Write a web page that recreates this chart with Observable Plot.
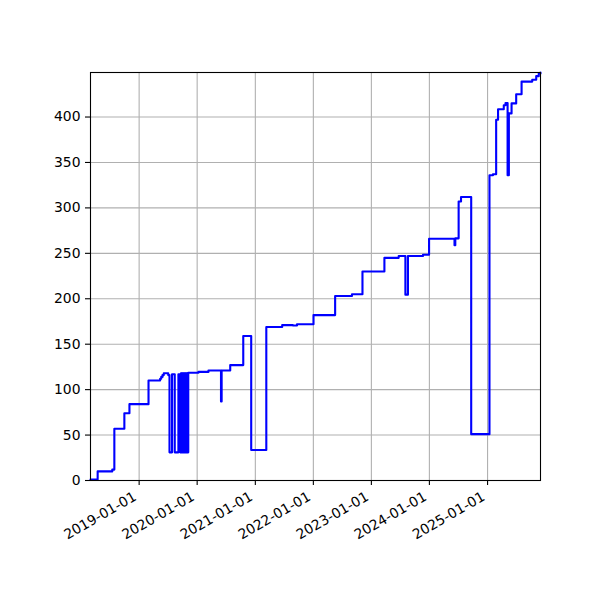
<!DOCTYPE html>
<html>
<head>
<meta charset="utf-8">
<script src="https://cdn.jsdelivr.net/npm/d3@7"></script>
<script src="https://cdn.jsdelivr.net/npm/@observablehq/plot@0.6"></script>
<style>
  html, body { margin: 0; padding: 0; background: #fff; }
  #chart { width: 600px; height: 600px; }
</style>
</head>
<body>
<div id="chart"></div>
<script>
const dates = [
  "2018-03-01","2018-04-15","2018-07-16","2018-07-29","2018-09-30","2018-11-01",
  "2019-03-01","2019-05-13","2019-05-20","2019-05-28","2019-06-05","2019-07-03",
  "2019-07-11","2019-07-27","2019-08-13","2019-09-05","2019-09-16","2019-09-21",
  "2019-09-24","2019-09-27","2019-09-30","2019-10-03","2019-10-06","2019-10-09",
  "2019-10-12","2019-10-15","2019-10-18","2019-10-21","2019-10-24","2019-10-27",
  "2019-10-30","2019-11-02","2019-11-04","2019-11-06","2020-01-09","2020-03-12",
  "2020-05-30","2020-06-03","2020-07-27","2020-10-17","2020-12-06","2021-03-11",
  "2021-06-19","2021-08-25","2021-09-20","2022-01-02","2022-05-18","2022-09-01",
  "2022-11-06","2023-03-24","2023-06-22","2023-08-03","2023-08-19","2023-11-22",
  "2023-12-30","2024-06-07","2024-06-12","2024-07-03","2024-07-18","2024-09-20",
  "2025-01-13","2025-02-04","2025-02-24","2025-03-08","2025-04-13","2025-04-24",
  "2025-05-07","2025-05-15","2025-06-01","2025-06-30","2025-08-03","2025-10-09",
  "2025-11-03","2025-11-19","2025-11-30"
];
const values = [
  1, 10, 12, 57, 74, 84,
  110, 112, 114, 116, 118, 116,
  31, 117, 31, 117, 31, 118,
  31, 118, 31, 118, 31, 118,
  31, 118, 31, 118, 31, 118,
  31, 118, 31, 118.5, 119.5, 121,
  87, 121, 127, 159, 33.5, 169,
  171, 170.5, 172, 182, 203, 205,
  230, 245, 247, 204.5, 247, 248.5,
  266, 259, 266.5, 307, 312, 51,
  336, 337, 397, 408.5, 413, 415.5,
  336, 404, 415, 425, 439, 441,
  445, 448, 449
];
const xTickLabels = ["2019-01-01","2020-01-01","2021-01-01","2022-01-01","2023-01-01","2024-01-01","2025-01-01"];
const yTicks = [0, 50, 100, 150, 200, 250, 300, 350, 400];

const data = dates.map((d, i) => ({date: new Date(d), value: values[i]}));
const xTicks = xTickLabels.map(s => new Date(s));
const font = "DejaVu Sans, sans-serif";
const fs = 13.9;

const chart = Plot.plot({
  width: 600,
  height: 600,
  marginLeft: 90,
  marginRight: 60,
  marginTop: 72,
  marginBottom: 120,
  style: {fontFamily: font, fontSize: fs + "px", background: "#fff", color: "#000", overflow: "visible"},
  x: {type: "utc", domain: [data[0].date, data[data.length - 1].date]},
  y: {domain: [0, d3.max(values)]},
  marks: [
    Plot.gridX(xTicks, {stroke: "#b0b0b0", strokeOpacity: 1, strokeWidth: 1.1}),
    Plot.gridY(yTicks, {stroke: "#b0b0b0", strokeOpacity: 1, strokeWidth: 1.1}),
    Plot.line(data, {x: "date", y: "value", curve: "step-after", stroke: "#0000ff", strokeWidth: 2.1}),
    Plot.frame({stroke: "#000", strokeWidth: 1.1}),
    Plot.axisY({ticks: yTicks, tickSize: 5, tickPadding: 5, fontSize: fs, label: null, strokeWidth: 1.1}),
    Plot.axisX({ticks: xTicks, tickSize: 5, tickFormat: () => "", label: null, strokeWidth: 1.1}),
    Plot.text(xTickLabels, {
      x: d => new Date(d), frameAnchor: "bottom", text: d => d,
      rotate: -30, textAnchor: "end", lineAnchor: "middle",
      dx: -4, dy: 15, fontSize: fs, fill: "#000"
    })
  ]
});
document.getElementById("chart").appendChild(chart);
</script>
</body>
</html>
